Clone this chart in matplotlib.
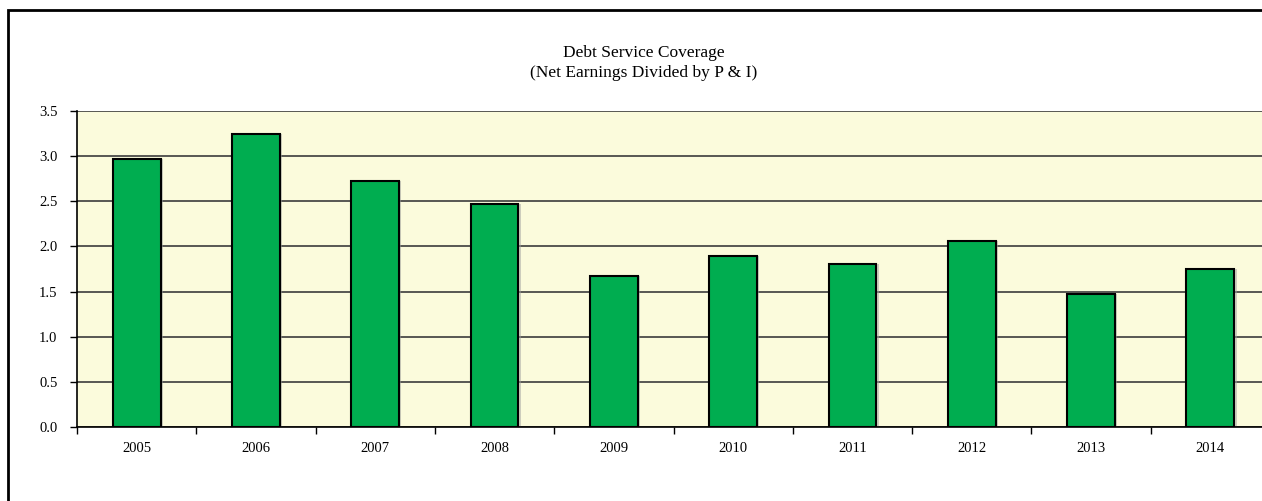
import matplotlib
matplotlib.use('Agg')
import matplotlib.pyplot as plt
from matplotlib.patches import Rectangle
import numpy as np

years = ['2005', '2006', '2007', '2008', '2009', '2010', '2011', '2012', '2013', '2014']
coverage = [2.97, 3.25, 2.72, 2.47, 1.67, 1.89, 1.81, 2.06, 1.47, 1.75]
yticks = [0.0, 0.5, 1.0, 1.5, 2.0, 2.5, 3.0, 3.5]

plt.rcParams['font.family'] = ['Liberation Serif', 'DejaVu Serif']

W, H = 1262, 501
fig = plt.figure(figsize=(W / 100, H / 100), dpi=100)

# outer chart frame (runs off the right/bottom edges of the crop)
fig.patches.append(Rectangle((8 / W, -0.1), 1.2, (H - 10) / H + 0.1, transform=fig.transFigure,
                             fill=False, edgecolor='black', linewidth=2, zorder=0))

# plot area, also extends a bit past the right edge
left, right, top, bottom = 77, 1270, 111, 427
ax = fig.add_axes([left / W, 1 - bottom / H, (right - left) / W, (bottom - top) / H])
ax.set_facecolor('#FBFBDC')

x = np.arange(len(years))
# light shadow under bars
ax.bar(x + 0.02, coverage, width=0.4, color='#A0A0A0', alpha=0.5, zorder=2, linewidth=0)
ax.bar(x, coverage, width=0.4, color='#00AD50', edgecolor='black', linewidth=1.5, zorder=3)

ax.set_xlim(-0.5, len(years) - 0.5)
ax.set_ylim(0, 3.5)
ax.set_yticks(yticks)
ax.set_yticklabels(['%.1f' % v for v in yticks], fontsize=10.5)
ax.set_xticks(x)
ax.set_xticklabels(years, fontsize=10.5)
ax.set_xticks(np.arange(len(years) + 1) - 0.5, minor=True)
ax.tick_params(axis='x', which='major', length=0, pad=11)
ax.tick_params(axis='x', which='minor', length=5, width=1, direction='out')
ax.tick_params(axis='y', length=5, width=1, direction='out', pad=9)
ax.yaxis.grid(True, color='#3C3C3C', linewidth=1.2, zorder=1)
ax.set_axisbelow(True)
for s in ['top', 'right']:
    ax.spines[s].set_visible(False)
ax.spines['left'].set_linewidth(1.2)
ax.spines['bottom'].set_linewidth(1.2)

fig.text(644 / W, 1 - 53 / H, 'Debt Service Coverage', ha='center', va='center', fontsize=12.5)
fig.text(644 / W, 1 - 73 / H, '(Net Earnings Divided by P & I)', ha='center', va='center', fontsize=12.5)

fig.savefig('out.png', dpi=100)
